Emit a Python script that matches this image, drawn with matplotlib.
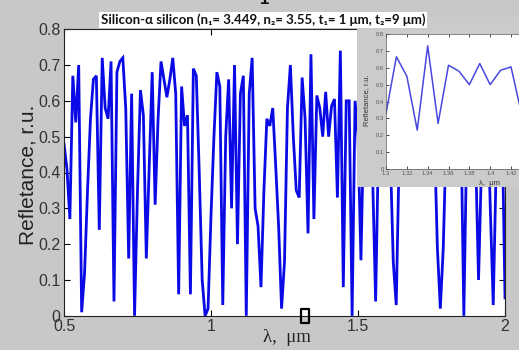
import numpy as np
import matplotlib
matplotlib.use("Agg")
import matplotlib.pyplot as plt
from matplotlib.patches import Rectangle
from matplotlib.path import Path

# Reflectance spectrum of the silicon / alpha-silicon stack, sampled every 0.01 um
wavelength_um = np.round(np.arange(0.50, 2.0001, 0.01), 2)
reflectance = [
    0.48, 0.41, 0.27, 0.67, 0.54, 0.70, 0.01, 0.12, 0.35, 0.55,
    0.66, 0.67, 0.24, 0.72, 0.58, 0.55, 0.71, 0.04, 0.68, 0.71,
    0.72, 0.58, 0.16, 0.62, 0.00, 0.35, 0.63, 0.56, 0.16, 0.42,
    0.68, 0.31, 0.55, 0.71, 0.66, 0.61, 0.66, 0.72, 0.62, 0.06,
    0.64, 0.53, 0.56, 0.06, 0.69, 0.67, 0.40, 0.10, 0.00, 0.02,
    0.28, 0.50, 0.68, 0.64, 0.03, 0.50, 0.66, 0.30, 0.70, 0.20,
    0.62, 0.67, 0.00, 0.62, 0.72, 0.30, 0.25, 0.08, 0.35, 0.55,
    0.53, 0.58, 0.42, 0.25, 0.02, 0.15, 0.58, 0.70, 0.50, 0.35,
    0.33, 0.665, 0.55, 0.23, 0.73, 0.27, 0.615, 0.58, 0.50, 0.625,
    0.50, 0.585, 0.605, 0.33, 0.74, 0.08, 0.60, 0.60, 0.00, 0.60,
    0.50, 0.155, 0.55, 0.68, 0.60, 0.38, 0.04, 0.50, 0.66, 0.62,
    0.70, 0.45, 0.15, 0.03, 0.45, 0.65, 0.70, 0.58, 0.66, 0.72,
    0.55, 0.64, 0.70, 0.60, 0.68, 0.62, 0.50, 0.19, 0.02, 0.19,
    0.50, 0.68, 0.60, 0.70, 0.64, 0.55, 0.00, 0.50, 0.68, 0.60,
    0.45, 0.10, 0.42, 0.66, 0.60, 0.30, 0.03, 0.42, 0.62, 0.55,
    0.05,
]

# Zoomed window shown in the inset
zoom_lo, zoom_hi = 1.30, 1.44
marker_x, marker_y = 1.32, 0.0

main_xticks = [0.5, 1.0, 1.5, 2.0]
main_xticklabels = ["0.5", "1", "1.5", "2"]
main_yticks = [0, 0.1, 0.2, 0.3, 0.4, 0.5, 0.6, 0.7, 0.8]
main_yticklabels = ["0", "0.1", "0.2", "0.3", "0.4", "0.5", "0.6", "0.7", "0.8"]
inset_xticks = [1.30, 1.32, 1.34, 1.36, 1.38, 1.40, 1.42]
inset_xticklabels = ["1.3", "1.32", "1.34", "1.36", "1.38", "1.4", "1.42"]

title_text = "Silicon-\u03b1 silicon (n\u2081= 3.449, n\u2082= 3.55, t\u2081= 1 \u03bcm, t\u2082=9 \u03bcm)"
ylabel_text = "Refletance, r.u."
xlabel_text = "\u03bb,  \u03bcm"

BG = "#c8c8c8"
W, H, DPI = 519, 350, 100

plt.rcParams["font.family"] = ["Liberation Sans", "DejaVu Sans"]
fig = plt.figure(figsize=(W / DPI, H / DPI), dpi=DPI, facecolor=BG)


def fx(px):
    return px / W


def fy(py):
    return 1 - py / H


# ---- main axes ----
ax = fig.add_axes([fx(64), fy(315.8), fx(505) - fx(64), fy(29.2) - fy(315.8)])
ax.set_facecolor("white")
ax.plot(wavelength_um, reflectance, color="#0a0ae6", lw=2.0, solid_joinstyle="miter")

rect_marker = Path([(-0.32, -0.5), (0.32, -0.5), (0.32, 0.5), (-0.32, 0.5), (-0.32, -0.5)],
                   [Path.MOVETO, Path.LINETO, Path.LINETO, Path.LINETO, Path.CLOSEPOLY])
ax.plot([marker_x], [marker_y], linestyle="none", marker=rect_marker, markersize=10,
        markerfacecolor="none", markeredgecolor="black", markeredgewidth=1.6,
        clip_on=False, zorder=5)

ax.set_xlim(0.5, 2.0)
ax.set_ylim(0, 0.8)
ax.set_xticks(main_xticks)
ax.set_xticklabels(main_xticklabels)
ax.set_yticks(main_yticks)
ax.set_yticklabels(main_yticklabels)
ax.tick_params(direction="in", top=True, right=True, length=4, width=0.8,
               labelsize=11.5, labelcolor="#333333", pad=2.5)
for s in ax.spines.values():
    s.set_linewidth(0.8)
    s.set_color("#222222")

fig.text(fx(28), fy(175), ylabel_text, rotation=90, ha="center", va="center",
         fontsize=15, color="#222222")
fig.text(fx(287), fy(337), xlabel_text, ha="center", va="center",
         fontsize=13.5, family=["Liberation Serif", "DejaVu Serif"], color="#222222")

# ---- title ----
fig.text(fx(263), fy(20), title_text, ha="center", va="center", fontsize=9.5,
         fontweight="bold", family=["Lato", "DejaVu Sans"], color="#111111",
         bbox=dict(boxstyle="square,pad=0.12", facecolor="white", edgecolor="none"))
fig.text(fx(265), fy(0), "1", ha="center", va="center", fontsize=12,
         fontweight="bold", color="#111111")

# ---- inset panel ----
fig.patches.append(Rectangle((fx(357), fy(187)), fx(519) - fx(357), fy(17) - fy(187),
                             transform=fig.transFigure, facecolor="#cbcbcb",
                             edgecolor="none", zorder=3))

px_per_um = (511 - 386) / 0.12
iax = fig.add_axes([fx(386), fy(169), (zoom_hi - zoom_lo) * px_per_um / W, fy(34) - fy(169)])
iax.set_zorder(4)
iax.set_facecolor("white")
sel = (wavelength_um >= zoom_lo - 1e-9) & (wavelength_um <= zoom_hi + 1e-9)
iax.plot(wavelength_um[sel], np.asarray(reflectance)[sel], color="#4848e0", lw=1.1)
iax.set_xlim(zoom_lo, zoom_hi)
iax.set_ylim(0, 0.8)
iax.set_xticks(inset_xticks)
iax.set_xticklabels(inset_xticklabels)
iax.set_yticks(main_yticks)
iax.set_yticklabels(main_yticklabels)
iax.tick_params(direction="in", top=True, right=True, length=2, width=0.5,
                labelsize=4.2, labelcolor="#555555", pad=1.5)
for s in iax.spines.values():
    s.set_linewidth(0.5)
    s.set_color("#555555")
fig.text(fx(367), fy(100), ylabel_text, rotation=90, ha="center", va="center",
         fontsize=5.5, color="#333333", zorder=5)
fig.text(fx(489), fy(183), "\u03bb,  \u03bcm", ha="center", va="center",
         fontsize=5.5, color="#333333", zorder=5)

fig.savefig("out.png", dpi=DPI, facecolor=BG)
